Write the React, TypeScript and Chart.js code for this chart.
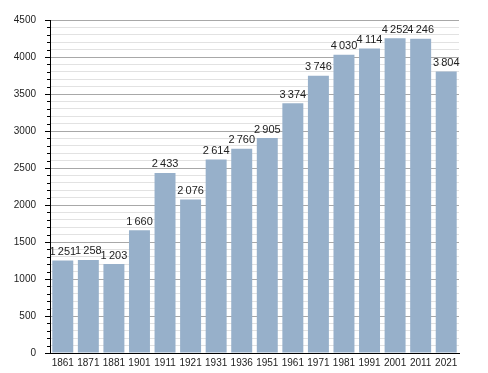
import React, { useEffect, useRef } from "react";
import { Chart, registerables } from "chart.js";

Chart.register(...registerables);

const years = ["1861", "1871", "1881", "1901", "1911", "1921", "1931", "1936", "1951", "1961", "1971", "1981", "1991", "2001", "2011", "2021"];
const population = [1251, 1258, 1203, 1660, 2433, 2076, 2614, 2760, 2905, 3374, 3746, 4030, 4114, 4252, 4246, 3804];
const yMax = 4500;
const yStep = 100;
const majorStep = 500;

const fmt = (v: number) => {
  const s = String(v);
  return s.length > 3 ? s.slice(0, s.length - 3) + "\u2009" + s.slice(s.length - 3) : s;
};

const valueLabels = {
  id: "valueLabels",
  afterDatasetsDraw(chart: any) {
    const ctx = chart.ctx;
    const meta = chart.getDatasetMeta(0);
    ctx.save();
    ctx.font = "11px 'Liberation Sans', Arial, sans-serif";
    ctx.fillStyle = "#222";
    ctx.textAlign = "center";
    ctx.textBaseline = "bottom";
    meta.data.forEach((el: any, i: number) => {
      ctx.fillText(fmt(population[i]), el.x, el.y - 3);
    });
    ctx.restore();
  },
};

const yTicks = {
  id: "yTicks",
  afterDraw(chart: any) {
    const ctx = chart.ctx;
    const y = chart.scales.y;
    const x0 = chart.chartArea.left;
    ctx.save();
    ctx.strokeStyle = "#000";
    ctx.lineWidth = 1;
    for (let v = 0; v <= yMax; v += yStep) {
      const py = Math.round(y.getPixelForValue(v)) + 0.5;
      const len = v % majorStep === 0 ? 5 : 3;
      ctx.beginPath();
      ctx.moveTo(x0 - len, py);
      ctx.lineTo(x0, py);
      ctx.stroke();
    }
    ctx.restore();
  },
};

export default function App() {
  const ref = useRef<HTMLCanvasElement>(null);
  useEffect(() => {
    document.body.style.margin = "0";
    const chart = new Chart(ref.current!, {
      type: "bar",
      data: {
        labels: years,
        datasets: [
          {
            data: population,
            backgroundColor: "#97b0ca",
            categoryPercentage: 0.82,
            barPercentage: 1,
          },
        ],
      },
      options: {
        animation: false,
        responsive: false,
        layout: { padding: { left: 0, right: 29, top: 20, bottom: 0 } },
        plugins: { legend: { display: false }, tooltip: { enabled: false } },
        scales: {
          x: {
            grid: { display: false, drawTicks: false },
            border: { color: "#000", width: 1 },
            ticks: {
              color: "#222",
              font: { family: "'Liberation Sans', Arial, sans-serif", size: 10 },
              padding: 4,
              maxRotation: 0,
              autoSkip: false,
            },
            afterFit: (s: any) => {
              s.height = 20;
            },
          },
          y: {
            min: 0,
            max: yMax,
            grid: {
              drawTicks: false,
              color: (c: any) => (c.tick && c.tick.value % majorStep === 0 ? "#a8a8a8" : "#e2e2e2"),
            },
            border: { color: "#000", width: 1 },
            ticks: {
              stepSize: yStep,
              autoSkip: false,
              color: "#222",
              font: { family: "'Liberation Sans', Arial, sans-serif", size: 10 },
              padding: 14,
              callback: (v: any) => (Number(v) % majorStep === 0 ? String(v) : ""),
            },
            afterFit: (s: any) => {
              s.width = 50;
            },
          },
        },
      },
      plugins: [valueLabels, yTicks],
    });
    return () => chart.destroy();
  }, []);
  return (
    <div style={{ position: "relative", width: 488, height: 373 }}>
      <canvas ref={ref} width={488} height={373} />
    </div>
  );
}
